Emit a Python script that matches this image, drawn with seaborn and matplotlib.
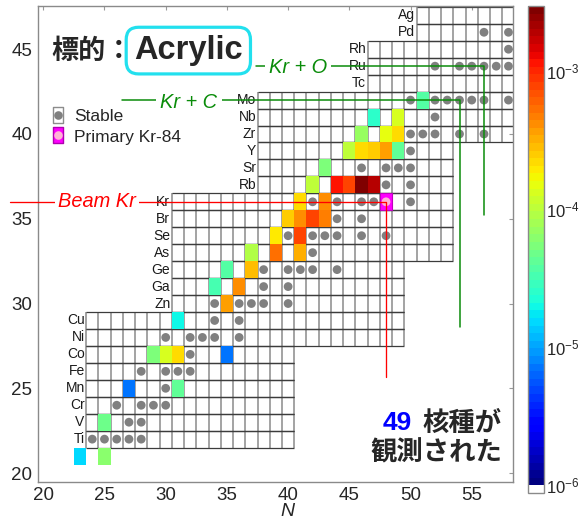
import numpy as np
import matplotlib
matplotlib.use("Agg")
import matplotlib.pyplot as plt
import seaborn as sns
from matplotlib.colors import ListedColormap, LogNorm
from matplotlib.path import Path
from matplotlib.lines import Line2D
from matplotlib.patches import Rectangle
from matplotlib.ticker import FixedLocator, NullFormatter

# ---- chart rows: element, proton number Z, neutron range shown ----
elem_symbol = ["Ti", "V", "Cr", "Mn", "Fe", "Co", "Ni", "Cu", "Zn", "Ga", "Ge", "As", "Se",
               "Br", "Kr", "Rb", "Sr", "Y", "Zr", "Nb", "Mo", "Tc", "Ru", "Rh", "Pd", "Ag"]
elem_Z = list(range(22, 48))
elem_Nmin = [24] * 8 + [31] * 7 + [38] * 6 + [47] * 3 + [51] * 2
elem_Nmax = [40] * 6 + [49] * 5 + [53] * 7 + [59] * 8

# ---- stable nuclides (N, Z) ----
stable_N = [24, 25, 26, 27, 28,  27, 28,  26, 28, 29, 30,  30,  28, 30, 31, 32,  32,
            30, 32, 33, 34, 36,  34, 36,  34, 36, 37, 38, 40,  38, 40,  38, 40, 41, 42, 44,
            42,  40, 42, 43, 44, 46, 48,  44, 46,  42, 44, 46, 47, 50,  48, 50,
            46, 48, 49, 50,  50,  50, 51, 52, 54, 56,  52,  50, 52, 53, 54, 55, 56, 58,
            52, 54, 55, 56, 57, 58,  58,  56, 58]
stable_Z = [22, 22, 22, 22, 22,  23, 23,  24, 24, 24, 24,  25,  26, 26, 26, 26,  27,
            28, 28, 28, 28, 28,  29, 29,  30, 30, 30, 30, 30,  31, 31,  32, 32, 32, 32, 32,
            33,  34, 34, 34, 34, 34, 34,  35, 35,  36, 36, 36, 36, 36,  37, 37,
            38, 38, 38, 38,  39,  40, 40, 40, 40, 40,  41,  42, 42, 42, 42, 42, 42, 42,
            44, 44, 44, 44, 44, 44,  45,  46, 46]

# ---- observed fragments: (Z, N, production yield) ----
obs_Z = [21, 21, 23, 25, 25, 27, 27, 27, 27, 29, 30, 31, 31, 32, 32, 33, 33, 33,
         34, 34, 35, 35, 35, 35, 36, 36, 37, 37, 37, 37, 37, 38,
         39, 39, 39, 39, 39, 40, 40, 40, 41, 41, 42]
obs_N = [23, 25, 25, 27, 31, 29, 30, 31, 35, 31, 35, 34, 36, 35, 37, 37, 39, 41,
         39, 41, 40, 41, 42, 43, 41, 43, 42, 44, 45, 46, 47, 43,
         45, 46, 47, 48, 49, 46, 48, 49, 47, 49, 51]
obs_yield = [1.6e-5, 6.2e-5, 5.0e-5, 6.8e-6, 4.0e-5, 5.4e-5, 1.3e-4, 2.1e-4, 7.4e-6,
             2.0e-5, 3.7e-4, 3.4e-5, 4.0e-4, 3.6e-5, 2.9e-4, 8.9e-5, 5.1e-4, 3.1e-4,
             1.95e-4, 7.9e-4, 2.6e-4, 4.0e-4, 7.4e-4, 4.5e-4, 2.3e-4, 4.3e-4,
             1.0e-4, 1.1e-3, 7.5e-4, 2.7e-3, 2.0e-3, 5.4e-5,
             1.0e-4, 2.3e-4, 2.6e-4, 3.5e-4, 4.3e-5, 6.9e-5, 1.5e-4, 2.1e-4,
             2.6e-5, 1.3e-4, 3.7e-5]

# primary beam nucleus Kr-84
primary_N, primary_Z = 48, 36

# reaction guide lines (N path, Z path)
beam_N, beam_Z = [17.3, 48, 48], [36, 36, 25.67]
krc_N, krc_Z = [26.4, 54, 54], [42, 42, 28.63]
kro_N, kro_Z = [37.4, 56, 56], [44, 44, 35.25]

# colorbar ticks
cbar_major = [1e-6, 1e-5, 1e-4, 1e-3]
cbar_minor = [10 ** -5.5, 10 ** -4.5, 10 ** -3.5]

# ---------------------------------------------------------------------------
sns.set_style("white")
plt.rcParams["font.family"] = ["Liberation Sans", "Noto Sans CJK JP", "DejaVu Sans"]
plt.rcParams["mathtext.fontset"] = "custom"
plt.rcParams["mathtext.rm"] = "Liberation Sans"
plt.rcParams["mathtext.it"] = "Liberation Sans:italic"

W, H = 582, 523
fig = plt.figure(figsize=(W / 100, H / 100), dpi=100)
ax = fig.add_axes([38 / W, 1 - 481.7 / H, 475 / W, 475.7 / H])
ax.set_xlim(19.57, 58.37)
ax.set_ylim(19.49, 47.55)

# grid of the nuclide chart
for Z, Nmin, Nmax in zip(elem_Z, elem_Nmin, elem_Nmax):
    xs = np.arange(Nmin - 0.5, Nmax + 1.0, 1.0)
    ax.vlines(xs, Z - 0.5, Z + 0.5, colors="#9c9c9c", lw=1.3, zorder=1)
    ax.hlines([Z - 0.5, Z + 0.5], Nmin - 0.5, Nmax + 0.5, colors="#3c3c3c", lw=0.9, zorder=1.1)

for sym, Z, Nmin in zip(elem_symbol, elem_Z, elem_Nmin):
    ax.text(Nmin - 0.62, Z, sym, ha="right", va="center", fontsize=10, color="#1a1a1a", zorder=1.2)

# yield map: white below 1e-6, then jet
jet = plt.get_cmap("jet")(np.linspace(0, 1, 63))
cmap = ListedColormap([(1, 1, 1, 1)] + [tuple(c) for c in jet])
norm = LogNorm(vmin=10 ** (-6 - 3.47 / 63), vmax=10 ** -2.53)

N_centers = np.arange(20, 61)
Z_centers = np.arange(21, 48)
grid = np.full((len(Z_centers), len(N_centers)), np.nan)
for Z, N, v in zip(obs_Z, obs_N, obs_yield):
    grid[Z - Z_centers[0], N - N_centers[0]] = v
mesh = ax.pcolormesh(np.append(N_centers - 0.5, N_centers[-1] + 0.5),
                     np.append(Z_centers - 0.5, Z_centers[-1] + 0.5),
                     np.ma.masked_invalid(grid), cmap=cmap, norm=norm, zorder=2)

# primary beam cell
ax.add_patch(Rectangle((primary_N - 0.5, primary_Z - 0.5), 1, 1, fc="#ff00ff",
                       ec="#c000c0", lw=0.8, zorder=2.5))

# stable nuclides
sns.scatterplot(x=stable_N, y=stable_Z, s=40, color="#808080", edgecolor="none",
                ax=ax, zorder=3, legend=False)
sns.scatterplot(x=[primary_N], y=[primary_Z], s=40, color="#ffb3d6", edgecolor="none",
                ax=ax, zorder=3.1, legend=False)

# reaction guide lines and labels
green = "#0a8c0a"
ax.plot(beam_N, beam_Z, color="#ff0000", lw=0.95, zorder=4, clip_on=False)
ax.plot(krc_N, krc_Z, color=green, lw=1.1, zorder=4)
ax.plot(kro_N, kro_Z, color=green, lw=1.1, zorder=4)
ax.text(24.4, 36.0, "Beam Kr", color="#ff0000", style="italic", fontsize=14.4,
        ha="center", va="center", zorder=5, bbox=dict(fc="white", ec="none", pad=2.5))
ax.text(31.9, 41.85, "Kr + C", color=green, style="italic", fontsize=14.4,
        ha="center", va="center", zorder=5, bbox=dict(fc="white", ec="none", pad=3))
ax.text(40.8, 43.9, "Kr + O", color=green, style="italic", fontsize=14.4,
        ha="center", va="center", zorder=5, bbox=dict(fc="white", ec="none", pad=3))

# target annotation
ax.text(20.69, 44.88, "標的：", fontsize=19.5, fontweight="bold",
        family=["Noto Sans CJK JP"], ha="left", va="center", zorder=5)
ax.text(31.85, 44.92, "Acrylic", fontsize=23.5, fontweight="bold", family=["Liberation Sans"],
        ha="center", va="center", zorder=5,
        bbox=dict(boxstyle="round,pad=0.24,rounding_size=0.38", fc="white",
                  ec="#22e0ee", lw=2.3))

# count annotation
ax.text(57.48, 22.95, "核種が", fontsize=19, fontweight="bold",
        family=["Noto Sans CJK JP"], ha="right", va="center", zorder=5)
ax.text(50.1, 22.95, "49", fontsize=19, fontweight="bold", color="#0000ff",
        family=["Liberation Sans"], ha="right", va="center", zorder=5)
ax.text(57.48, 21.18, "観測された", fontsize=19, fontweight="bold",
        family=["Noto Sans CJK JP"], ha="right", va="center", zorder=5)

# legend
rect_marker = Path([(-0.34, -0.5), (0.34, -0.5), (0.34, 0.5), (-0.34, 0.5), (-0.34, -0.5)],
                   [Path.MOVETO, Path.LINETO, Path.LINETO, Path.LINETO, Path.CLOSEPOLY])
h_stable = (Line2D([], [], ls="none", marker=rect_marker, ms=11.5, mfc="white",
                   mec="#8c8c8c", mew=1.0),
            Line2D([], [], ls="none", marker="o", ms=6.2, mfc="#808080", mec="none"))
h_primary = (Line2D([], [], ls="none", marker=rect_marker, ms=11.5, mfc="#ff00ff",
                    mec="#b000b0", mew=1.0),
             Line2D([], [], ls="none", marker="o", ms=6.2, mfc="#ffb3d6", mec="none"))
ax.legend([h_stable, h_primary], ["Stable", "Primary Kr-84"], loc="upper left",
          bbox_to_anchor=((52 - 38) / 475, (481.7 - 108.5) / 475.7), frameon=False,
          fontsize=12.5, borderpad=0, borderaxespad=0, handlelength=0.7,
          handletextpad=0.55, labelspacing=0.33)

# axes styling
ax.set_xticks(range(20, 56, 5))
ax.set_yticks(range(20, 46, 5))
ax.tick_params(axis="both", labelsize=13.5, direction="in", length=3, width=0.8,
               color="#9a9a9a", top=True, right=True, pad=4)
ax.set_xlabel("N", style="italic", fontsize=14, labelpad=3)
ax.xaxis.set_label_coords(0.525, -0.045)
for sp in ax.spines.values():
    sp.set_color("#8a8a8a")
    sp.set_linewidth(1.0)

# colorbar
cax = fig.add_axes([528 / W, 1 - 493 / H, 16 / W, 487 / H])
cb = fig.colorbar(mesh, cax=cax)
cb.outline.set_edgecolor("#8a8a8a")
cb.outline.set_linewidth(1.0)
cax.yaxis.set_major_locator(FixedLocator(cbar_major))
cax.yaxis.set_minor_locator(FixedLocator(cbar_minor))
cax.yaxis.set_minor_formatter(NullFormatter())
cax.tick_params(which="both", direction="in", length=4.5, width=0.8, color="#333333",
                labelsize=12, pad=1.5)

fig.savefig("out.png", dpi=100)
